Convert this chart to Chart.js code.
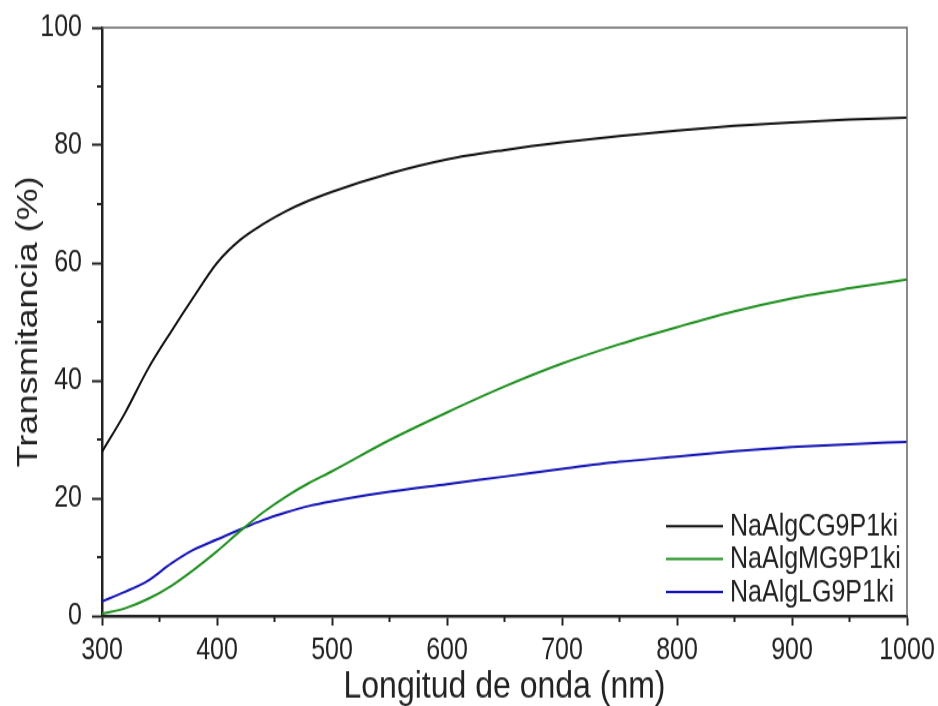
<!DOCTYPE html>
<html>
<head>
<meta charset="utf-8">
<script src="https://cdn.jsdelivr.net/npm/chart.js@4/dist/chart.umd.min.js"></script>
<style>
html, body { margin: 0; padding: 0; background: #fff; }
body { width: 938px; height: 706px; overflow: hidden; }
/* plot is laid out at 938x588 and stretched to the full 706px height */
#wrap { width: 938px; height: 588px; transform-origin: 0 0; transform: scaleY(1.2007); }
</style>
</head>
<body>
<div id="wrap"><canvas id="trans" width="938" height="588"></canvas></div>
<script>
// longitud de onda (nm)
var wavelengths = [300, 320, 340, 360, 380, 400, 420, 440, 460, 480, 500, 550, 600, 650, 700, 750, 800, 850, 900, 950, 1000];

var seriesNames = ['NaAlgCG9P1ki', 'NaAlgMG9P1ki', 'NaAlgLG9P1ki'];
var seriesColors = ['#111111', '#1f8f1f', '#1414b4'];

// transmitancia (%)
var transCG = [27.9, 34.5, 42.0, 48.3, 54.3, 60.0, 63.9, 66.6, 68.8, 70.6, 72.1, 75.2, 77.6, 79.2, 80.5, 81.6, 82.5, 83.3, 83.9, 84.4, 84.7];
var transMG = [0.4, 1.3, 2.9, 5.1, 7.9, 11.0, 14.4, 17.6, 20.3, 22.6, 24.6, 29.9, 34.6, 39.0, 42.9, 46.2, 49.1, 51.8, 54.0, 55.7, 57.2];
var transLG = [2.5, 4.1, 6.0, 8.9, 11.3, 13.0, 14.7, 16.3, 17.6, 18.7, 19.5, 21.1, 22.4, 23.7, 25.0, 26.2, 27.1, 28.0, 28.7, 29.2, 29.6];

var xTickValues = [300, 400, 500, 600, 700, 800, 900, 1000];
var xMinorValues = [350, 450, 550, 650, 750, 850, 950];
var yTickValues = [0, 20, 40, 60, 80, 100];
var yMinorValues = [10, 30, 50, 70, 90];

var FONT = '"Liberation Sans", Arial, Helvetica, sans-serif';
var INK = '#222';

function toPoints(vals) {
	return wavelengths.map(function (w, i) { return { x: w, y: vals[i] }; });
}

var allSeries = [transCG, transMG, transLG];
var datasets = allSeries.map(function (vals, i) {
	return {
		label: seriesNames[i],
		data: toPoints(vals),
		borderColor: seriesColors[i],
		backgroundColor: seriesColors[i],
		borderWidth: 2,
		pointRadius: 0,
		showLine: true,
		cubicInterpolationMode: 'monotone'
	};
});

// marco superior/derecho, ticks menores y leyenda dentro del área
var framePlugin = {
	id: 'frame',
	afterDraw: function (chart) {
		var a = chart.chartArea, ctx = chart.ctx;
		var sx = chart.scales.x, sy = chart.scales.y;
		ctx.save();
		ctx.strokeStyle = '#666';
		ctx.lineWidth = 1.5;
		ctx.beginPath();
		ctx.moveTo(a.left, a.top);
		ctx.lineTo(a.right, a.top);
		ctx.lineTo(a.right, a.bottom);
		ctx.stroke();

		ctx.strokeStyle = INK;
		ctx.lineWidth = 2;
		ctx.beginPath();
		xMinorValues.forEach(function (v) {
			var px = sx.getPixelForValue(v);
			ctx.moveTo(px, a.bottom);
			ctx.lineTo(px, a.bottom + 5);
		});
		yMinorValues.forEach(function (v) {
			var py = sy.getPixelForValue(v);
			ctx.moveTo(a.left, py);
			ctx.lineTo(a.left - 5, py);
		});
		ctx.stroke();

		// leyenda
		var rowH = 27.4;
		var y0 = a.bottom - 20 - rowH * (chart.data.datasets.length - 1);
		ctx.font = '25px ' + FONT;
		ctx.textBaseline = 'middle';
		ctx.textAlign = 'left';
		chart.data.datasets.forEach(function (ds, i) {
			var y = y0 + i * rowH;
			ctx.strokeStyle = ds.borderColor;
			ctx.lineWidth = 2;
			ctx.beginPath();
			ctx.moveTo(a.right - 241, y);
			ctx.lineTo(a.right - 184, y);
			ctx.stroke();
			ctx.fillStyle = INK;
			ctx.fillText(ds.label, a.right - 177, y + 1);
		});
		ctx.restore();
	}
};

var chart = new Chart(document.getElementById('trans'), {
	type: 'scatter',
	data: { datasets: datasets },
	plugins: [framePlugin],
	options: {
		responsive: false,
		animation: false,
		events: [],
		layout: { padding: { left: 0, right: 31, top: 23, bottom: 0 } },
		plugins: {
			legend: { display: false },
			tooltip: { enabled: false }
		},
		scales: {
			x: {
				type: 'linear',
				min: 300,
				max: 1000,
				afterBuildTicks: function (s) { s.ticks = xTickValues.map(function (v) { return { value: v }; }); },
				afterFit: function (s) { s.height = 75; s.paddingLeft = 0; s.paddingRight = 0; },
				grid: { drawOnChartArea: false, tickLength: 8, tickWidth: 2, tickColor: INK },
				border: { display: true, width: 2.5, color: INK },
				ticks: {
					color: INK,
					font: { family: FONT, size: 25 },
					padding: 6,
					maxRotation: 0,
					autoSkip: false,
					callback: function (v) { return String(v); }
				},
				title: {
					display: true,
					text: 'Longitud de onda (nm)',
					color: INK,
					font: { family: FONT, size: 32, lineHeight: 1 },
					padding: { top: 0, bottom: 0 }
				}
			},
			y: {
				min: 0,
				max: 100,
				afterBuildTicks: function (s) { s.ticks = yTickValues.map(function (v) { return { value: v }; }); },
				afterFit: function (s) { s.width = 102; s.paddingTop = 0; s.paddingBottom = 0; },
				grid: { drawOnChartArea: false, tickLength: 10, tickWidth: 2, tickColor: INK },
				border: { display: true, width: 2.5, color: INK },
				ticks: { color: INK, font: { family: FONT, size: 25 }, padding: 10 },
				title: {
					display: true,
					text: 'Transmitancia (%)',
					color: INK,
					font: { family: FONT, size: 30, lineHeight: 1 },
					padding: { top: 14, bottom: 0 }
				}
			}
		}
	}
});
</script>
</body>
</html>
